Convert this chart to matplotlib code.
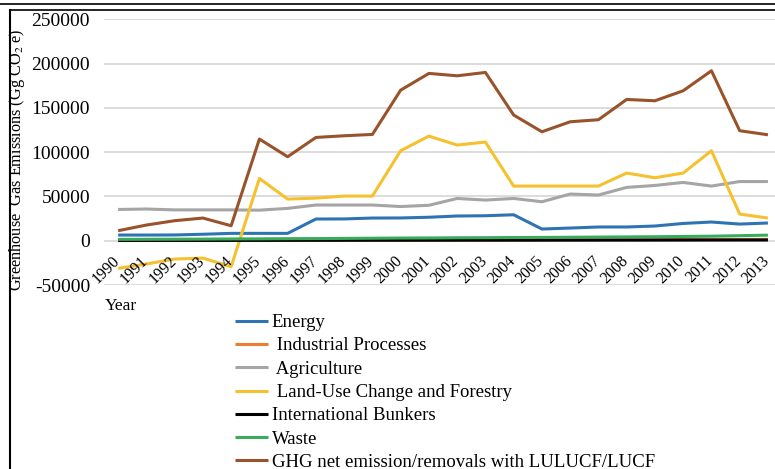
import matplotlib
matplotlib.use("Agg")
import matplotlib.pyplot as plt
from matplotlib.lines import Line2D
from matplotlib.transforms import ScaledTranslation

plt.rcParams['font.family'] = ['Liberation Serif', 'DejaVu Serif']
plt.rcParams['mathtext.fontset'] = 'stix'

years = list(range(1990, 2014))
energy = [6400, 6400, 6500, 7300, 8300, 8300, 8300, 24500, 24600, 25600, 25700, 26500,
          27900, 28200, 29300, 13200, 14300, 15500, 15500, 16600, 19500, 21100, 18800, 20000]
industrial = [600, 620, 650, 700, 680, 750, 800, 820, 850, 900, 880, 950,
              1000, 1020, 1050, 1100, 1150, 1200, 1230, 1280, 1350, 1400, 1450, 1500]
agriculture = [35300, 35800, 34800, 34800, 34800, 34500, 36500, 40300, 40300, 40300, 38600, 40000,
               47700, 45900, 47700, 44000, 52700, 51600, 60200, 62400, 65800, 61700, 66800, 66800]
lucf = [-31200, -26300, -20700, -19600, -29400, 70300, 47000, 48100, 50400, 50400, 101600, 118100,
        108000, 111400, 61700, 61700, 61700, 61700, 76400, 71100, 76400, 101600, 30100, 25600]
bunkers = [300, 320, 330, 350, 380, 400, 420, 450, 480, 500, 520, 540,
           560, 580, 600, 620, 650, 680, 700, 720, 750, 780, 800, 820]
waste = [1500, 1600, 1700, 1800, 2000, 2100, 2300, 2400, 2600, 2800, 3000, 3100,
         3300, 3400, 3600, 3700, 3900, 4100, 4300, 4500, 4800, 5100, 5700, 6300]
ghg = [11300, 17700, 22600, 25600, 16900, 114800, 94800, 116600, 118500, 120000, 170000, 188900,
       186200, 190000, 141900, 123000, 134300, 136600, 159500, 158000, 169300, 191900, 124200, 119600]

series = [
    ("Energy", energy, "#2e74b5"),
    (" Industrial Processes", industrial, "#ed7d31"),
    (" Agriculture", agriculture, "#a5a5a5"),
    (" Land-Use Change and Forestry", lucf, "#f5c12e"),
    ("International Bunkers", bunkers, "#000000"),
    ("Waste", waste, "#3aaa5c"),
    ("GHG net emission/removals with LULUCF/LUCF", ghg, "#98532a"),
]
yticks = [-50000, 0, 50000, 100000, 150000, 200000, 250000]

W, H = 775, 469
fig = plt.figure(figsize=(W / 100, H / 100), dpi=100)
ax = fig.add_axes([104 / W, 1 - 285 / H, 671 / W, (285 - 19.3) / H])

for label, vals, col in series:
    ax.plot(years, vals, color=col, lw=2.2, label=label, solid_capstyle='butt')

ax.set_xlim(1989.5, 2013.25)
ax.set_ylim(-50000, 250000)
ax.set_yticks(yticks)
ax.set_yticklabels([str(v) for v in yticks], fontsize=14)
ax.tick_params(axis='y', length=0, pad=10)
ax.set_xticks([])
ax.grid(axis='y', color='#d9d9d9', lw=1.3)
ax.set_axisbelow(True)
for s in ax.spines.values():
    s.set_visible(False)

offset = ScaledTranslation(0.05, -0.12, fig.dpi_scale_trans)
for y in years:
    ax.text(y, 0, str(y), rotation=45, ha='right', va='top', fontsize=11.5,
            transform=ax.transData + offset)

fig.text(17.5 / W, 1 - 160 / H, "Greenhouse  Gas Emissions (Gg CO$_2$ e)",
         rotation=90, ha='center', va='center', fontsize=11.7)
fig.text(105 / W, 1 - 306 / H, "Year", ha='left', va='center', fontsize=12.5)

leg = ax.legend(loc='upper left', bbox_to_anchor=(235 / W, 1 - 314 / H),
                bbox_transform=fig.transFigure, frameon=False, fontsize=13.5,
                handlelength=1.76, handletextpad=0.2, labelspacing=0.33,
                borderpad=0, borderaxespad=0)
for ln in leg.get_lines():
    ln.set_linewidth(2.2)

# frame lines
fig.add_artist(Line2D([0, 1], [1 - 4.5 / H, 1 - 4.5 / H], color='black', lw=1.2,
                      transform=fig.transFigure))
fig.add_artist(Line2D([9.5 / W, 1], [1 - 10.5 / H, 1 - 10.5 / H], color='black', lw=1.2,
                      transform=fig.transFigure))
fig.add_artist(Line2D([9.5 / W, 9.5 / W], [0, 1 - 10.5 / H], color='black', lw=1.5,
                      transform=fig.transFigure))

fig.savefig("out.png", dpi=100)
